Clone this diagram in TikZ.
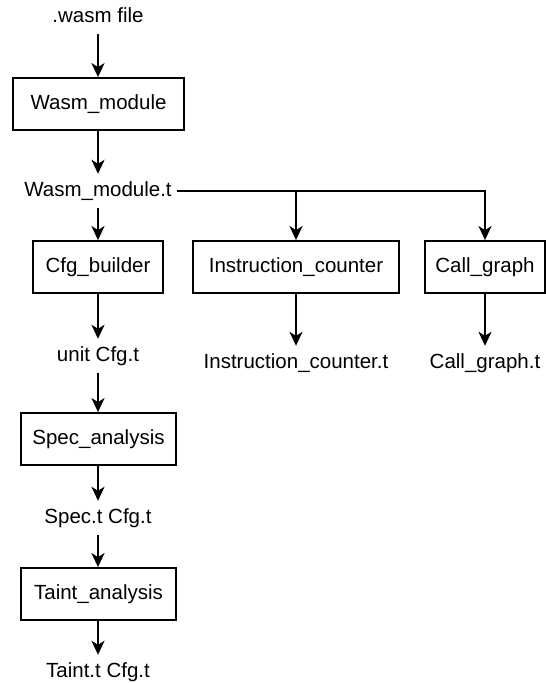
\documentclass[tikz,border=0pt]{standalone}
\usepackage{fontspec}
\setmainfont{Liberation Sans}
\usetikzlibrary{arrows.meta}

\begin{document}
\begin{tikzpicture}[x=1pt,y=-1pt,
  every node/.style={font=\fontsize{20.5}{24}\selectfont},
  module/.style={draw,line width=1.8pt,inner sep=0pt,minimum height=52pt},
  dataval/.style={inner sep=0pt,minimum height=34pt,text height=14.6pt,text depth=4.2pt},
  flow/.style={line width=2.1pt,-{Stealth[length=14pt,width=13pt,inset=4pt]}}
]
\useasboundingbox (0,0) rectangle (546,683);

% values passed between stages
\node[dataval] (wasmfile) at (98,17)  {.wasm file};
\node[dataval] (wmt)      at (98,191) {Wasm\_module.t};
\node[dataval] (cfgt)     at (98,356) {unit Cfg.t};
\node[dataval] (ict)      at (296,363) {Instruction\_counter.t};
\node[dataval] (cgt)      at (485,363) {Call\_graph.t};
\node[dataval] (spect)    at (98,518) {Spec.t Cfg.t};
\node[dataval] (taintt)   at (98,672) {Taint.t Cfg.t};

% processing stages
\node[module,minimum width=171pt] (wm)    at (98.5,104) {Wasm\_module};
\node[module,minimum width=130pt] (cb)    at (98,267)   {Cfg\_builder};
\node[module,minimum width=206pt] (ic)    at (296,267)  {Instruction\_counter};
\node[module,minimum width=120pt] (cg)    at (485,267)  {Call\_graph};
\node[module,minimum width=155pt] (spec)  at (98.5,439) {Spec\_analysis};
\node[module,minimum width=155pt] (taint) at (98.5,594) {Taint\_analysis};

% main pipeline
\draw[flow] (wasmfile.south) -- (wasmfile.south |- wm.north);
\draw[flow] (wasmfile.south |- wm.south) -- (wmt.north);
\draw[flow] (wmt.south) -- (wmt.south |- cb.north);
\draw[flow] (wmt.south |- cb.south) -- (cfgt.north);
\draw[flow] (cfgt.south) -- (cfgt.south |- spec.north);
\draw[flow] (cfgt.south |- spec.south) -- (spect.north);
\draw[flow] (spect.south) -- (spect.south |- taint.north);
\draw[flow] (spect.south |- taint.south) -- (taintt.north);

% side analyses fed by the module
\draw[flow,shorten <=5pt] (wmt.east) -| (cg.north);
\draw[flow] (ic.north |- wmt.east) -- (ic.north);
\draw[flow] (ic.south) -- (ict.north);
\draw[flow] (cg.south) -- (cgt.north);
\end{tikzpicture}
\end{document}
